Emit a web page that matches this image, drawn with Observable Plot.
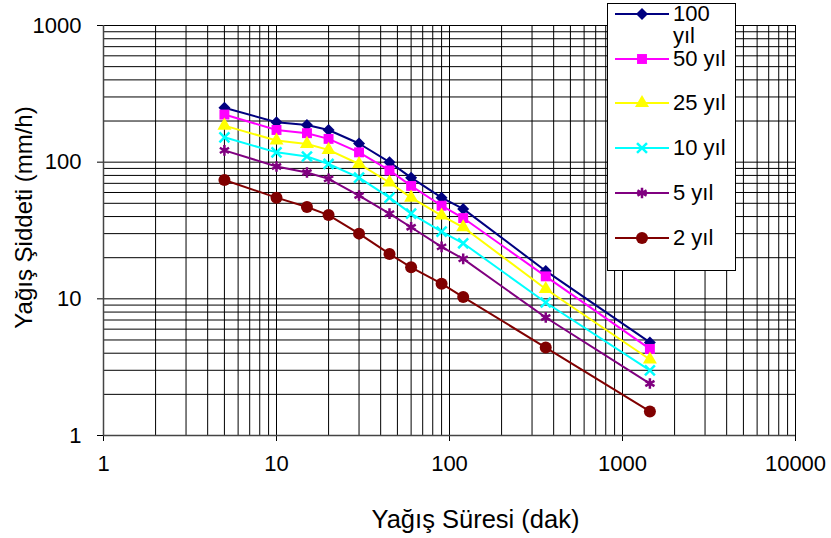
<!DOCTYPE html>
<html><head><meta charset="utf-8">
<script src="https://cdn.jsdelivr.net/npm/d3@7"></script>
<script src="https://cdn.jsdelivr.net/npm/@observablehq/plot@0.6"></script>
<style>
body{margin:0;background:#fff;font-family:"Liberation Sans",Arial,sans-serif;}
#wrap{position:relative;width:831px;height:538px;overflow:hidden;}
#legend{position:absolute;left:607px;top:3px;width:129px;height:268px;border:1px solid #000;background:#fff;box-sizing:border-box;}
.row{position:absolute;left:7px;display:flex;align-items:flex-start;}
.row span{display:block;width:60px;font-size:22px;line-height:22px;color:#000;margin-left:4px;}
</style></head><body><div id="wrap"></div><script>
const durations = [5, 10, 15, 20, 30, 45, 60, 90, 120, 360, 1440];
const seriesNames = ["100 yıl", "50 yıl", "25 yıl", "10 yıl", "5 yıl", "2 yıl"];
const s100 = [250, 196, 187, 172, 137, 100, 77, 55, 45.5, 16, 4.8];
const s50 = [223, 172, 163, 148, 118, 87, 67, 48, 39, 14.6, 4.3];
const s25 = [185, 144, 136, 123, 97, 71, 55, 40.7, 33.4, 11.8, 3.6];
const s10 = [152, 118, 110, 97, 77, 55, 42, 31, 25.5, 9.4, 3.0];
const s5 = [122, 93, 84, 75.5, 57, 42, 33.4, 24, 19.6, 7.3, 2.4];
const s2 = [74, 55, 47, 41, 30, 21.3, 17, 12.9, 10.3, 4.4, 1.5];
const seriesValues = [s100, s50, s25, s10, s5, s2];
const colors = ["#000080", "#FF00FF", "#FFFF00", "#00FFFF", "#800080", "#800000"];
const symbolNames = ["diamond2", "square", "triangle", "times", "asterisk", "circle"];
const filled = [true, true, true, false, false, true];
const symbolR = [5.4, 5.6, 5.2, 4.6, 5, 6];
const xTickLabels = [1, 10, 100, 1000, 10000];
const yTickLabels = [1, 10, 100, 1000];
const xTitle = "Yağış Süresi (dak)";
const yTitle = "Yağış Şiddeti (mm/h)";

const decadeTicks = (n) => d3.range(0, n).flatMap(k => d3.range(1, 10).map(m => m * 10 ** k)).concat([10 ** n]);
const xGrid = decadeTicks(4);
const yGrid = decadeTicks(3);

const rows = seriesNames.flatMap((name, i) => durations.map((d, j) => ({series: name, duration: d, intensity: seriesValues[i][j]})));

const seriesMarks = seriesNames.flatMap((name, i) => {
  const data = rows.filter(r => r.series === name);
  return [
    Plot.line(data, {x: "duration", y: "intensity", stroke: colors[i], strokeWidth: 2}),
    Plot.dot(data, {x: "duration", y: "intensity", symbol: () => symbolNames[i], r: symbolR[i],
      fill: filled[i] ? colors[i] : "none", stroke: filled[i] ? "none" : colors[i], strokeWidth: filled[i] ? 0 : 2.5})
  ];
});

const chart = Plot.plot({
  width: 831, height: 538,
  marginLeft: 103, marginRight: 36, marginTop: 25, marginBottom: 103,
  style: {fontFamily: "'Liberation Sans', Arial, sans-serif", background: "#fff", color: "#000"},
  x: {type: "log", domain: [1, 10000]},
  y: {type: "log", domain: [1, 1000]},
  symbol: {type: "identity"},
  marks: [
    Plot.gridX(xGrid, {stroke: "#000", strokeOpacity: 1, strokeWidth: 1}),
    Plot.gridY(yGrid, {stroke: "#000", strokeOpacity: 1, strokeWidth: 1}),
    Plot.axisX(xTickLabels, {tickSize: 6, tickPadding: 14, fontSize: 22, tickFormat: d => String(d), label: null}),
    Plot.axisY(yTickLabels, {tickSize: 6, tickPadding: 16, fontSize: 22, tickFormat: d => String(d), label: null}),
    Plot.ruleX([1], {stroke: "#444", strokeWidth: 1.5}),
    Plot.ruleY([1], {stroke: "#444", strokeWidth: 1.5}),
    ...seriesMarks,
    Plot.text([xTitle], {frameAnchor: "bottom", lineAnchor: "middle", textAnchor: "middle", dy: 84, dx: 26, fontSize: 25.5, fill: "#000"}),
    Plot.text([yTitle], {frameAnchor: "left", lineAnchor: "middle", textAnchor: "middle", dx: -79, dy: -13, rotate: -90, fontSize: 24, fill: "#000"})
  ]
});
const wrap = document.getElementById("wrap");
wrap.appendChild(chart);

// legend
const legend = d3.select(wrap).append("div").attr("id", "legend");
const firstCenter = 10, spacing = 44.7, lh = 22;
const d3Symbols = {diamond2: d3.symbolDiamond2, square: d3.symbolSquare, triangle: d3.symbolTriangle, times: d3.symbolTimes, asterisk: d3.symbolAsterisk, circle: d3.symbolCircle};
seriesNames.forEach((name, i) => {
  const row = legend.append("div").attr("class", "row").style("top", (firstCenter + i * spacing - lh / 2) + "px");
  const svg = row.append("svg").attr("width", 54).attr("height", lh);
  svg.append("line").attr("x1", 0).attr("x2", 54).attr("y1", lh / 2).attr("y2", lh / 2).attr("stroke", colors[i]).attr("stroke-width", 2);
  svg.append("path").attr("transform", `translate(27,${lh / 2})`)
    .attr("d", d3.symbol(d3Symbols[symbolNames[i]], Math.PI * symbolR[i] ** 2)())
    .attr("fill", filled[i] ? colors[i] : "none").attr("stroke", filled[i] ? "none" : colors[i]).attr("stroke-width", 2.5);
  row.append("span").text(name);
});
</script></body></html>
